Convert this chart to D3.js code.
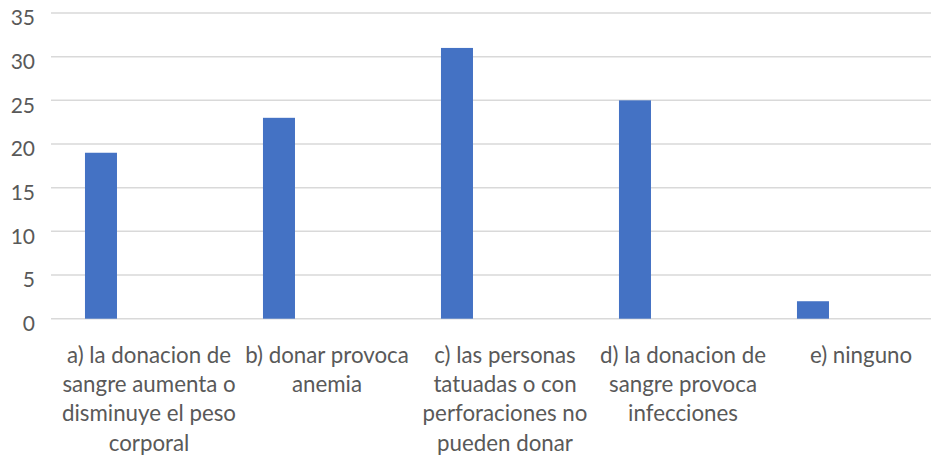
<!DOCTYPE html>
<html>
<head>
<meta charset="utf-8">
<script src="https://cdn.jsdelivr.net/npm/d3@7"></script>
<style>
  html, body { margin: 0; padding: 0; background: #fff; }
  svg { display: block; }
  text { font-family: Lato, "Open Sans", sans-serif; fill: #595959; }
</style>
</head>
<body>
<svg id="chart" width="931" height="460"></svg>
<script>
// ---- data ----
const categories = [
  "a) la donacion de sangre aumenta o disminuye el peso corporal",
  "b) donar provoca anemia",
  "c) las personas tatuadas o con perforaciones no pueden donar",
  "d) la donacion de sangre provoca infecciones",
  "e) ninguno"
];
const values = [19, 23, 31, 25, 2];
// the source chart is a clustered layout with four slots per category; only the first holds data
const seriesSlots = ["Serie1", "Serie2", "Serie3", "Serie4"];
const yTicks = [0, 5, 10, 15, 20, 25, 30, 35];

// ---- layout ----
const gridLeft = 51, gridRight = 931;
const svg = d3.select("#chart");

const y = d3.scaleLinear().domain([0, 35]).range([318.7, 13]);
const x = d3.scaleBand().domain(categories).range([60, 60 + 5 * 178]).padding(0);
const x1 = d3.scaleBand().domain(seriesSlots).range([0, x.bandwidth()]).paddingInner(0).paddingOuter(0.78);

// gridlines
svg.append("g").selectAll("line").data(yTicks).join("line")
  .attr("x1", gridLeft).attr("x2", gridRight)
  .attr("y1", d => y(d)).attr("y2", d => y(d))
  .attr("stroke", "#d9d9d9").attr("stroke-width", 1.5);

// y axis labels
const yAxis = d3.axisLeft(y).tickValues(yTicks).tickSize(0).tickPadding(0);
const yg = svg.append("g").attr("transform", "translate(35,0)").call(yAxis);
yg.select(".domain").remove();
yg.selectAll("text").attr("font-size", 21).attr("dy", "0.32em")
  .attr("transform", "translate(0,5)")
  .style("font-family", "Lato, sans-serif").attr("fill", "#595959");

// bars
svg.append("g").selectAll("rect").data(values).join("rect")
  .attr("x", (d, i) => x(categories[i]) + x1("Serie1"))
  .attr("width", x1.bandwidth())
  .attr("y", d => y(d))
  .attr("height", d => y(0) - y(d))
  .attr("fill", "#4472c4");

// x axis labels with wrapping
const xAxis = d3.axisBottom(x).tickSize(0).tickPadding(0);
const xg = svg.append("g").attr("transform", `translate(0,${y(0)})`).call(xAxis);
xg.select(".domain").remove();
const fs = 22.3, lineH = 29.3, maxW = 178;
xg.selectAll(".tick text").each(function(d) {
  const t = d3.select(this);
  t.text(null).attr("font-size", fs).attr("y", 0).attr("dy", null)
    .style("font-family", "Lato, sans-serif").attr("fill", "#595959");
  const words = d.split(" ");
  let lines = [], cur = [];
  const probe = t.append("tspan");
  for (const w of words) {
    const test = cur.concat([w]).join(" ");
    probe.text(test);
    if (probe.node().getComputedTextLength() > maxW && cur.length) {
      lines.push(cur.join(" "));
      cur = [w];
    } else {
      cur.push(w);
    }
  }
  if (cur.length) lines.push(cur.join(" "));
  probe.remove();
  lines.forEach((ln, i) => {
    t.append("tspan").attr("x", 0).attr("y", 44 + i * lineH).text(ln);
  });
});
</script>
</body>
</html>
